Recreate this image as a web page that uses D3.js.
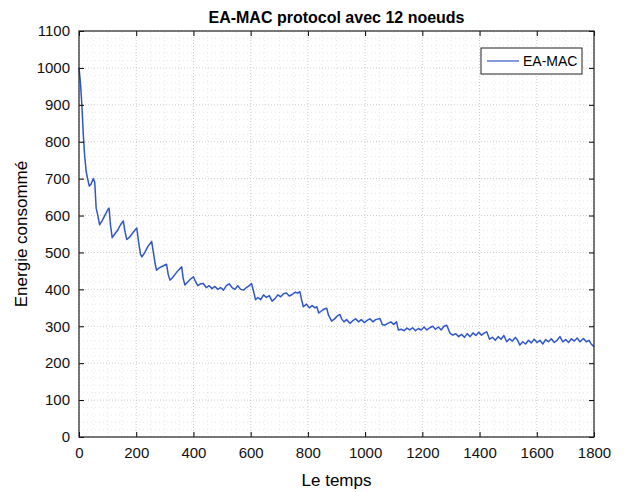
<!DOCTYPE html>
<html>
<head>
<meta charset="utf-8">
<script src="https://cdn.jsdelivr.net/npm/d3@7"></script>
<style>
  body { margin: 0; background: #fff; }
  text { font-family: "Liberation Sans", Arial, sans-serif; }
</style>
</head>
<body>
<div id="chart"></div>
<script>
// chart values
const temps = [0, 5, 10, 15, 20, 25, 30, 36, 42, 50, 55, 60, 66, 72, 80, 90, 100, 105, 110, 116,
  125, 135, 145, 155, 160, 167, 175, 185, 195, 202, 208, 215, 220, 230, 240, 254, 260, 266, 271, 280,
  290, 300, 306, 312, 318, 325, 335, 345, 359, 364, 370, 380, 390, 400, 408, 415, 425, 434, 445, 455,
  465, 475, 485, 495, 505, 515, 525, 535, 545, 555, 565, 575, 585, 595, 603, 610, 617, 625, 635, 645,
  655, 665, 675, 685, 695, 705, 715, 725, 735, 745, 755, 765, 772, 778, 784, 795, 805, 815, 825, 831,
  838, 845, 855, 866, 872, 883, 893, 903, 912, 918, 926, 935, 947, 957, 967, 977, 987, 997, 1007, 1017,
  1027, 1037, 1052, 1060, 1069, 1079, 1090, 1100, 1110, 1116, 1126, 1136, 1146, 1156, 1166, 1176, 1186, 1196, 1206, 1216,
  1226, 1236, 1246, 1256, 1266, 1276, 1285, 1297, 1307, 1317, 1327, 1337, 1347, 1357, 1367, 1377, 1387, 1397, 1407, 1417,
  1425, 1435, 1445, 1455, 1465, 1475, 1485, 1495, 1505, 1515, 1525, 1533, 1541, 1551, 1561, 1571, 1581, 1591, 1601, 1611,
  1621, 1631, 1641, 1651, 1661, 1671, 1681, 1691, 1701, 1711, 1721, 1731, 1741, 1751, 1763, 1773, 1783, 1790, 1800];

const energie = [1000, 960, 900, 820, 760, 720, 700, 680, 685, 700, 690, 620, 600, 575, 585, 600, 615, 620, 575, 540,
  550, 560, 575, 585, 560, 535, 540, 550, 560, 566, 530, 495, 488, 500, 515, 530, 500, 470, 452, 458,
  462, 466, 468, 440, 425, 430, 440, 450, 461, 430, 412, 420, 428, 434, 420, 410, 415, 416, 405, 410,
  402, 408, 400, 405, 398, 410, 415, 405, 400, 410, 400, 398, 405, 410, 416, 395, 372, 378, 372, 385,
  378, 383, 368, 375, 385, 380, 388, 390, 382, 386, 392, 390, 394, 372, 353, 360, 350, 356, 350, 353,
  336, 340, 346, 349, 330, 314, 320, 328, 332, 320, 312, 318, 308, 315, 320, 312, 318, 310, 316, 320,
  312, 318, 321, 305, 303, 308, 312, 305, 312, 290, 292, 288, 295, 290, 296, 288, 294, 290, 298, 290,
  296, 300, 292, 298, 290, 300, 303, 281, 276, 280, 272, 278, 270, 280, 272, 282, 275, 284, 276, 282,
  285, 265, 270, 262, 272, 265, 275, 258, 266, 260, 270, 262, 249, 258, 252, 262, 255, 265, 256, 262,
  252, 264, 258, 266, 256, 262, 272, 258, 264, 256, 266, 260, 268, 258, 267, 258, 262, 252, 245];

const xTicks = [0, 200, 400, 600, 800, 1000, 1200, 1400, 1600, 1800];
const yTicks = [0, 100, 200, 300, 400, 500, 600, 700, 800, 900, 1000, 1100];
const seriesName = "EA-MAC";

let width = 624,
    height = 492,
    margin = ({ top: 31, right: 30, bottom: 55, left: 79 });

const svg = d3.select("#chart")
  .append("svg")
  .attr("width", width)
  .attr("height", height);

let x = d3.scaleLinear()
  .domain([0, 1800])
  .range([margin.left, width - margin.right]);

let y = d3.scaleLinear()
  .domain([0, 1100])
  .range([height - margin.bottom, margin.top]);

// minor grid
svg.append("g")
  .selectAll("line")
  .data(d3.range(0, 1801, 50).filter(v => v % 200 !== 0))
  .join("line")
  .attr("x1", d => x(d)).attr("x2", d => x(d))
  .attr("y1", y(0)).attr("y2", y(1100))
  .attr("stroke", "#d8d8d8").attr("stroke-width", 0.6)
  .attr("stroke-dasharray", "1,3");
svg.append("g")
  .selectAll("line")
  .data(d3.range(0, 1101, 20).filter(v => v % 100 !== 0))
  .join("line")
  .attr("x1", x(0)).attr("x2", x(1800))
  .attr("y1", d => y(d)).attr("y2", d => y(d))
  .attr("stroke", "#d8d8d8").attr("stroke-width", 0.6)
  .attr("stroke-dasharray", "1,3");

// major grid
svg.append("g")
  .selectAll("line")
  .data(xTicks)
  .join("line")
  .attr("x1", d => x(d)).attr("x2", d => x(d))
  .attr("y1", y(0)).attr("y2", y(1100))
  .attr("stroke", "#b8b8b8").attr("stroke-width", 0.7)
  .attr("stroke-dasharray", "1,2");
svg.append("g")
  .selectAll("line")
  .data(yTicks)
  .join("line")
  .attr("x1", x(0)).attr("x2", x(1800))
  .attr("y1", d => y(d)).attr("y2", d => y(d))
  .attr("stroke", "#b8b8b8").attr("stroke-width", 0.7)
  .attr("stroke-dasharray", "1,2");

// the curve
const line = d3.line()
  .x((d, i) => x(temps[i]))
  .y(d => y(d));

svg.append("path")
  .datum(energie)
  .attr("fill", "none")
  .attr("stroke", "#2f57c8")
  .attr("stroke-width", 1.5)
  .attr("stroke-linejoin", "round")
  .attr("d", line);

// axes, ticks pointing inward like MATLAB
const tickLen = 5;
const fmt = d3.format("d");
svg.append("g")
  .attr("transform", `translate(0,${height - margin.bottom})`)
  .call(d3.axisBottom(x).tickValues(xTicks).tickSize(-tickLen).tickPadding(10).tickFormat(fmt))
  .call(g => g.select(".domain").remove())
  .call(g => g.selectAll("text").attr("font-size", 15).attr("fill", "#111"));
svg.append("g")
  .attr("transform", `translate(0,${margin.top})`)
  .call(d3.axisTop(x).tickValues(xTicks).tickSize(-tickLen).tickFormat(""))
  .call(g => g.select(".domain").remove());
svg.append("g")
  .attr("transform", `translate(${margin.left},0)`)
  .call(d3.axisLeft(y).tickValues(yTicks).tickSize(-tickLen).tickPadding(9).tickFormat(fmt))
  .call(g => g.select(".domain").remove())
  .call(g => g.selectAll("text").attr("font-size", 15).attr("fill", "#111"));
svg.append("g")
  .attr("transform", `translate(${width - margin.right},0)`)
  .call(d3.axisRight(y).tickValues(yTicks).tickSize(-tickLen).tickFormat(""))
  .call(g => g.select(".domain").remove());

// box
svg.append("rect")
  .attr("x", x(0)).attr("y", y(1100))
  .attr("width", x(1800) - x(0)).attr("height", y(0) - y(1100))
  .attr("fill", "none").attr("stroke", "#222").attr("stroke-width", 1.2);

// title and axis labels
svg.append("text")
  .attr("x", (x(0) + x(1800)) / 2).attr("y", 23)
  .attr("text-anchor", "middle")
  .attr("font-size", 16).attr("font-weight", "bold")
  .text("EA-MAC protocol avec 12 noeuds");

svg.append("text")
  .attr("x", (x(0) + x(1800)) / 2).attr("y", 486)
  .attr("text-anchor", "middle")
  .attr("font-size", 17)
  .text("Le temps");

svg.append("text")
  .attr("transform", `translate(27,${(y(0) + y(1100)) / 2}) rotate(-90)`)
  .attr("text-anchor", "middle")
  .attr("font-size", 17)
  .text("Energie consommé");

// legend
const lg = svg.append("g").attr("transform", "translate(481,48)");
lg.append("rect")
  .attr("width", 101).attr("height", 26)
  .attr("fill", "#fff").attr("stroke", "#222").attr("stroke-width", 1);
lg.append("line")
  .attr("x1", 6).attr("x2", 38).attr("y1", 13).attr("y2", 13)
  .attr("stroke", "#2f57c8").attr("stroke-width", 1.2);
lg.append("text")
  .attr("x", 42).attr("y", 18)
  .attr("font-size", 14)
  .text(seriesName);
</script>
</body>
</html>
